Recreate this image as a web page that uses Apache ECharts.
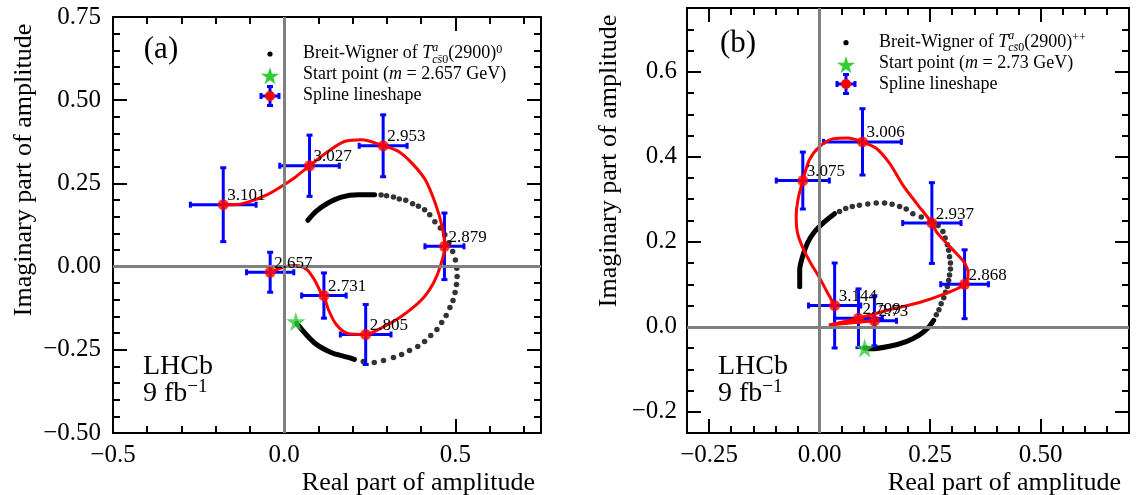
<!DOCTYPE html>
<html>
<head>
<meta charset="utf-8">
<script src="https://cdn.jsdelivr.net/npm/echarts@6.0.0/dist/echarts.min.js"></script>
<style>
  html, body { margin: 0; padding: 0; background: #fff; }
  #main { width: 1136px; height: 495px; }
</style>
</head>
<body>
<div id="main"></div>
<script>
// ---- panel (a): Tcs0(2900)^0 ----
const massA = ['2.657', '2.731', '2.805', '2.879', '2.953', '3.027', '3.101'];
const reA = [-0.041, 0.116, 0.238, 0.468, 0.289, 0.074, -0.178];
const imA = [-0.017, -0.087, -0.204, 0.061, 0.363, 0.303, 0.186];
const reErrA = [0.069, 0.065, 0.074, 0.057, 0.070, 0.087, 0.096];
const imErrA = [0.060, 0.068, 0.090, 0.100, 0.093, 0.092, 0.111];
const startA = [0.034, -0.165];
// spline lineshape
const curveA = [[-0.041,-0.017],[0.0,-0.001],[0.034,0.003],[0.064,-0.007],[0.088,-0.039],[0.108,-0.079],
  [0.116,-0.087],[0.129,-0.129],[0.152,-0.174],[0.186,-0.201],[0.238,-0.204],[0.284,-0.184],[0.343,-0.149],
  [0.402,-0.099],[0.436,-0.049],[0.456,0.001],[0.469,0.061],[0.461,0.121],[0.441,0.191],[0.412,0.261],
  [0.373,0.311],[0.334,0.346],[0.289,0.363],[0.226,0.381],[0.176,0.376],[0.128,0.346],[0.074,0.303],
  [0.029,0.266],[0.0,0.246],[-0.049,0.216],[-0.108,0.193],[-0.147,0.186],[-0.178,0.186]];
// Breit-Wigner circle: dense ends (dots overlap) and the sparse dots
const bwHeadA = [[0.036,-0.170],[0.087,-0.228],[0.137,-0.258],[0.187,-0.273],[0.205,-0.279]];
const bwTailA = [[0.264,0.216],[0.216,0.216],[0.167,0.209],[0.128,0.191],[0.093,0.166],[0.069,0.139]];
const bwDotsA = [[0.231,-0.285],[0.263,-0.288],[0.290,-0.282],[0.319,-0.273],[0.343,-0.264],[0.366,-0.252],
  [0.390,-0.240],[0.410,-0.225],[0.428,-0.207],[0.446,-0.189],[0.460,-0.168],[0.473,-0.147],[0.484,-0.123],
  [0.493,-0.102],[0.499,-0.078],[0.503,-0.054],[0.505,-0.030],[0.504,-0.005],[0.500,0.020],[0.492,0.045],
  [0.481,0.072],[0.469,0.096],[0.456,0.116],[0.440,0.135],[0.425,0.156],[0.410,0.171],[0.392,0.181],
  [0.375,0.189],[0.355,0.199],[0.336,0.203],[0.319,0.209],[0.299,0.213],[0.283,0.215]];

// ---- panel (b): Tcs0(2900)^++ ----
const massB = ['2.73', '2.799', '2.868', '2.937', '3.006', '3.075', '3.144'];
const reB = [0.124, 0.088, 0.328, 0.254, 0.097, -0.038, 0.034];
const imB = [0.014, 0.020, 0.100, 0.244, 0.435, 0.344, 0.050];
const reErrB = [0.050, 0.054, 0.054, 0.066, 0.088, 0.060, 0.059];
const imErrB = [0.059, 0.069, 0.081, 0.095, 0.078, 0.067, 0.100];
const startB = [0.102, -0.050];
const curveB = [[0.124,0.014],[0.021,0.004],[0.088,0.020],[0.158,0.040],[0.226,0.057],[0.287,0.079],
  [0.328,0.100],[0.336,0.126],[0.328,0.150],[0.309,0.173],[0.287,0.197],[0.264,0.224],[0.254,0.244],
  [0.219,0.291],[0.188,0.334],[0.158,0.385],[0.128,0.420],[0.097,0.435],[0.064,0.444],[0.030,0.442],
  [0.0,0.424],[-0.023,0.393],[-0.038,0.344],[-0.049,0.299],[-0.053,0.260],[-0.050,0.221],[-0.036,0.181],
  [-0.018,0.146],[0.0,0.115],[0.018,0.080],[0.034,0.050]];
const bwHeadB = [[0.102,-0.050],[0.117,-0.052],[0.158,-0.046],[0.196,-0.035],[0.226,-0.019],[0.245,-0.003],[0.258,0.015]];
const bwTailB = [[0.034,0.266],[0.011,0.247],[-0.011,0.224],[-0.027,0.198],[-0.038,0.167],[-0.045,0.134],[-0.045,0.094]];
const bwDotsB = [[0.264,0.028],[0.270,0.040],[0.275,0.054],[0.281,0.068],[0.285,0.081],[0.289,0.095],
  [0.292,0.109],[0.294,0.122],[0.296,0.136],[0.296,0.150],[0.294,0.165],[0.292,0.180],[0.289,0.193],
  [0.284,0.209],[0.279,0.224],[0.268,0.238],[0.252,0.250],[0.230,0.258],[0.211,0.266],[0.196,0.277],
  [0.181,0.283],[0.164,0.288],[0.147,0.291],[0.128,0.291],[0.109,0.289],[0.090,0.286],[0.074,0.283],
  [0.059,0.278],[0.045,0.271]];

// tick labels
const xTicksA = [-0.5, 0, 0.5];
const yTicksA = [-0.5, -0.25, 0, 0.25, 0.5, 0.75];
const xTicksB = [-0.25, 0, 0.25, 0.5];
const yTicksB = [-0.2, 0, 0.2, 0.4, 0.6];

const FONT = '"Liberation Serif", "Times New Roman", serif';
const STAR_PTS = [[50,0],[61,35],[98,35],[68,57],[79,91],[50,70],[21,91],[32,57],[2,35],[39,35]];
const STAR = 'path://M' + STAR_PTS.map(p => p.join(',')).join(' L') + ' Z';
const GREEN = '#33cc33';
const BLUE = '#0000ff';
const RED = '#ff0000';

const fmt = (v, d) => (v < -1e-9 ? '\u2212' : '') + Math.abs(v).toFixed(d);

function makeAxes(dim, gi, min, max, majors, minorStep, digits, margin) {
  const pos = dim === 'x' ? ['bottom', 'top'] : ['left', 'right'];
  const common = { type: 'value', gridIndex: gi, min: min, max: max, splitLine: { show: false } };
  const line = { show: true, onZero: false, lineStyle: { color: '#000', width: 2 } };
  const noLine = { show: false, onZero: false };
  const majorTick = { show: true, inside: true, length: 14, customValues: majors, lineStyle: { color: '#000', width: 2 } };
  const minorTick = { show: true, inside: true, length: 7, lineStyle: { color: '#000', width: 2 } };
  return [
    Object.assign({}, common, { position: pos[0], axisLine: line, axisTick: majorTick,
      axisLabel: { show: true, customValues: majors, formatter: v => fmt(v, digits), color: '#000',
        fontFamily: FONT, fontSize: 25, margin: margin } }),
    Object.assign({}, common, { position: pos[0], interval: minorStep, axisLine: noLine, axisTick: minorTick, axisLabel: { show: false } }),
    Object.assign({}, common, { position: pos[1], axisLine: line, axisTick: majorTick, axisLabel: { show: false } }),
    Object.assign({}, common, { position: pos[1], interval: minorStep, axisLine: noLine, axisTick: minorTick, axisLabel: { show: false } })
  ];
}

function panelSeries(ax, d) {
  const idx = { xAxisIndex: ax, yAxisIndex: ax };
  return [
    Object.assign({ type: 'line', data: [], silent: true, z: 1,
      markLine: { silent: true, symbol: 'none', label: { show: false },
        lineStyle: { color: '#808080', width: 3, type: 'solid' },
        data: [{ xAxis: 0 }, { yAxis: 0 }] } }, idx),
    Object.assign({ type: 'line', data: d.bwHead, symbol: 'none', smooth: 0.3, z: 2,
      lineStyle: { color: '#000', width: 5, cap: 'round' } }, idx),
    Object.assign({ type: 'line', data: d.bwTail, symbol: 'none', smooth: 0.3, z: 2,
      lineStyle: { color: '#000', width: 5, cap: 'round' } }, idx),
    Object.assign({ type: 'scatter', data: d.bwDots, symbolSize: 5.5, z: 2,
      itemStyle: { color: '#000' } }, idx),
    Object.assign({ type: 'custom', z: 3,
      data: d.mass.map((m, i) => [d.re[i], d.im[i], d.reErr[i], d.imErr[i]]),
      encode: { x: 0, y: 1 },
      renderItem: function (params, api) {
        const x = api.value(0), y = api.value(1), ex = api.value(2), ey = api.value(3);
        const l = api.coord([x - ex, y]), r = api.coord([x + ex, y]);
        const t = api.coord([x, y + ey]), b = api.coord([x, y - ey]);
        const st = { stroke: BLUE, lineWidth: 3 };
        const cap = 3;
        const ln = (x1, y1, x2, y2) => ({ type: 'line', shape: { x1, y1, x2, y2 }, style: st });
        return { type: 'group', children: [
          ln(l[0], l[1], r[0], r[1]), ln(t[0], t[1], b[0], b[1]),
          ln(l[0], l[1] - cap, l[0], l[1] + cap), ln(r[0], r[1] - cap, r[0], r[1] + cap),
          ln(t[0] - cap, t[1], t[0] + cap, t[1]), ln(b[0] - cap, b[1], b[0] + cap, b[1])
        ] };
      } }, idx),
    Object.assign({ type: 'line', data: d.curve, symbol: 'none', smooth: 0.3, z: 4,
      lineStyle: { color: RED, width: 3 } }, idx),
    Object.assign({ type: 'scatter', data: d.mass.map((m, i) => [d.re[i], d.im[i]]), symbolSize: 11, z: 5,
      itemStyle: { color: RED } }, idx),
    Object.assign({ type: 'scatter', data: [d.start], symbol: STAR, symbolSize: 19, z: 6,
      itemStyle: { color: GREEN } }, idx),
    Object.assign({ type: 'custom', z: 7,
      data: d.mass.map((m, i) => [d.re[i], d.im[i]]),
      encode: { x: 0, y: 1 },
      renderItem: function (params, api) {
        const c = api.coord([api.value(0), api.value(1)]);
        return { type: 'text', x: c[0] + 4, y: c[1] - 9,
          style: { text: d.mass[params.dataIndex], fill: '#000', font: '17px ' + FONT,
            align: 'left', verticalAlign: 'middle', textAlign: 'left', textVerticalAlign: 'middle' } };
      } }, idx)
  ];
}

// lay out a line of text pieces (for super/subscripts)
const measureCtx = document.createElement('canvas').getContext('2d');
function textLine(x0, y, parts) {
  const out = [];
  let x = x0;
  parts.forEach(p => {
    const font = (p.it ? 'italic ' : '') + p.s + 'px ' + FONT;
    measureCtx.font = font;
    const w = measureCtx.measureText(p.t).width;
    out.push({ type: 'text', x: x, y: y + (p.dy || 0), silent: true,
      style: { text: p.t, font: font, fill: '#000', align: 'left', verticalAlign: 'middle',
        textAlign: 'left', textVerticalAlign: 'middle' } });
    if (p.adv !== false) x += w;
  });
  return out;
}

function legendIcons(cx, yDot, yStar, ySpl) {
  const st = { stroke: BLUE, lineWidth: 3 };
  const ln = (x1, y1, x2, y2) => ({ type: 'line', shape: { x1, y1, x2, y2 }, style: st, silent: true });
  return [
    { type: 'circle', shape: { cx: cx, cy: yDot, r: 2.6 }, style: { fill: '#000' }, silent: true },
    { type: 'polygon', shape: { points: STAR_PTS.map(p => [cx - 9.5 + p[0] * 0.19, yStar - 9 + p[1] * 0.19]) },
      style: { fill: GREEN }, silent: true },
    ln(cx - 9, ySpl, cx + 9, ySpl), ln(cx, ySpl - 9.5, cx, ySpl + 9.5),
    ln(cx - 9, ySpl - 3, cx - 9, ySpl + 3), ln(cx + 9, ySpl - 3, cx + 9, ySpl + 3),
    ln(cx - 3, ySpl - 9.5, cx + 3, ySpl - 9.5), ln(cx - 3, ySpl + 9.5, cx + 3, ySpl + 9.5),
    { type: 'circle', shape: { cx: cx, cy: ySpl, r: 5 }, style: { fill: RED }, silent: true }
  ];
}

function bwTitle(charge) {
  return [{ t: 'Breit-Wigner of ', s: 18 }, { t: 'T', s: 18, it: 1 },
    { t: 'a', s: 12, it: 1, dy: -6, adv: false },
    { t: 'c', s: 12, it: 1, dy: 6 }, { t: 's\u0304', s: 12, it: 1, dy: 6 }, { t: '0', s: 12, dy: 6 },
    { t: '(2900)', s: 18 }, { t: charge, s: 12, dy: -4 }];
}
function startTitle(m) {
  return [{ t: 'Start point (', s: 18 }, { t: 'm', s: 18, it: 1 }, { t: ' = ' + m + ' GeV)', s: 18 }];
}
function lhcb(x) {
  return textLine(x, 367, [{ t: 'LHCb', s: 28 }]).concat(
    textLine(x, 394, [{ t: '9 fb', s: 28 }, { t: '\u22121', s: 19, dy: -7 }]));
}
function plainText(x, y, t, size, align, rot) {
  return { type: 'text', x: x, y: y, rotation: rot || 0, silent: true,
    style: { text: t, font: size + 'px ' + FONT, fill: '#000', align: align, verticalAlign: 'middle',
      textAlign: align, textVerticalAlign: 'middle' } };
}

const graphics = [].concat(
  legendIcons(270, 54, 76, 96),
  textLine(303, 53.5, bwTitle('0')),
  textLine(303, 74.5, startTitle('2.657')),
  textLine(303, 95, [{ t: 'Spline lineshape', s: 18 }]),
  legendIcons(846, 42.7, 65, 84),
  textLine(879, 42, bwTitle('++')),
  textLine(879, 63.5, startTitle('2.73')),
  textLine(879, 84.5, [{ t: 'Spline lineshape', s: 18 }]),
  lhcb(143), lhcb(718),
  [plainText(161, 50, '(a)', 31, 'center'), plainText(738, 44, '(b)', 31, 'center'),
   plainText(24, 170, 'Imaginary part of amplitude', 26, 'center', Math.PI / 2),
   plainText(609, 161, 'Imaginary part of amplitude', 26, 'center', Math.PI / 2),
   plainText(535, 483, 'Real part of amplitude', 26, 'right'),
   plainText(1121, 483, 'Real part of amplitude', 26, 'right')]
);

const chart = echarts.init(document.getElementById('main'));
chart.setOption({
  animation: false,
  backgroundColor: '#fff',
  grid: [
    { left: 113, top: 17, width: 428, height: 416, containLabel: false, outerBoundsMode: 'none' },
    { left: 687, top: 8, width: 442, height: 425, containLabel: false, outerBoundsMode: 'none' }
  ],
  xAxis: [].concat(
    makeAxes('x', 0, -0.5, 0.75, xTicksA, 0.1, 1, 10),
    makeAxes('x', 1, -0.3, 0.7, xTicksB, 0.05, 2, 10)),
  yAxis: [].concat(
    makeAxes('y', 0, -0.5, 0.75, yTicksA, 0.05, 2, 12),
    makeAxes('y', 1, -0.25, 0.75, yTicksB, 0.05, 1, 10)),
  series: [].concat(
    panelSeries(0, { mass: massA, re: reA, im: imA, reErr: reErrA, imErr: imErrA, start: startA,
      curve: curveA, bwHead: bwHeadA, bwTail: bwTailA, bwDots: bwDotsA }),
    panelSeries(4, { mass: massB, re: reB, im: imB, reErr: reErrB, imErr: imErrB, start: startB,
      curve: curveB, bwHead: bwHeadB, bwTail: bwTailB, bwDots: bwDotsB })),
  graphic: graphics
});
</script>
</body>
</html>
